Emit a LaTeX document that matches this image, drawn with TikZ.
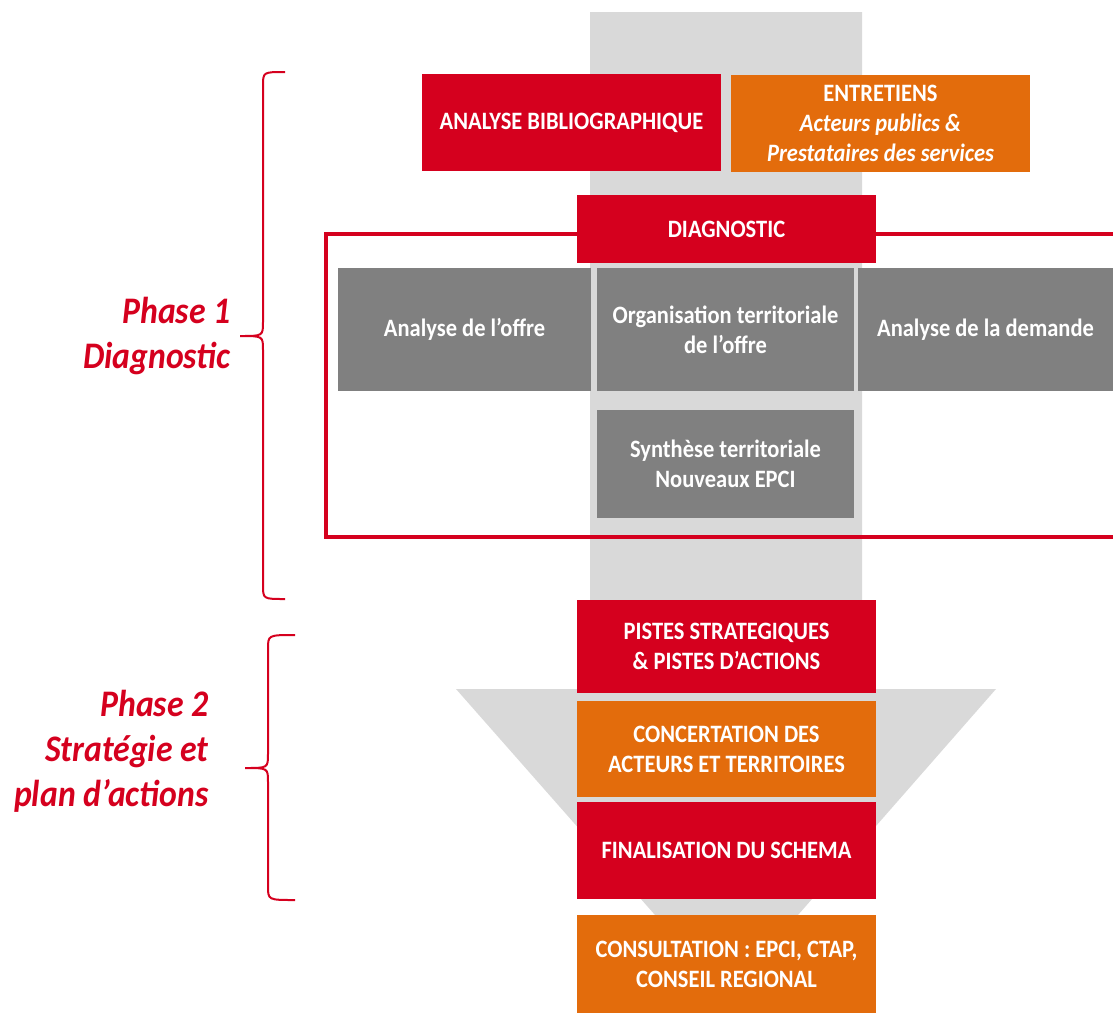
\documentclass[tikz,border=0pt]{standalone}
\usepackage{fontspec}
\setmainfont{Carlito}[FakeStretch=0.9]
\definecolor{scred}{RGB}{213,0,30}
\definecolor{scorange}{RGB}{227,108,12}
\definecolor{scgray}{RGB}{128,128,128}
\definecolor{sclight}{RGB}{217,217,217}

\begin{document}
\begin{tikzpicture}[x=1pt,y=-1pt,
  scbox/.style={rectangle,inner sep=2pt,outer sep=0pt,align=center,text=white,
    font=\fontsize{25}{30}\selectfont\bfseries},
  redbox/.style={scbox,fill=scred,minimum width=299pt},
  orangebox/.style={scbox,fill=scorange,minimum width=299pt},
  graybox/.style={scbox,fill=scgray,minimum height=123pt},
  phaselbl/.style={anchor=east,align=right,text=scred,
    font=\fontsize{37.5}{45}\selectfont\bfseries\itshape},
  scbrace/.style={scred,line width=2pt}
]
  \useasboundingbox (0,0) rectangle (1113,1013);
  % light gray arrow behind everything
  \fill[sclight] (590,12) -- (862,12) -- (862,689) -- (996,689) -- (798,915)
    -- (655,915) -- (456,689) -- (590,689) -- cycle;
  % red frame of the diagnostic
  \draw[scred,line width=4.5pt] (1113,234) -- (326,234) -- (326,537) -- (1113,537);

  % top row
  \node[redbox,minimum height=97pt] (bib) at (571.5,122.5) {ANALYSE BIBLIOGRAPHIQUE};
  \node[orangebox,minimum height=97pt] (ent) at (880.5,123.5) {ENTRETIENS\\
    \itshape Acteurs publics \&\\ \itshape Prestataires des services};
  \node[redbox,minimum height=68pt] (diag) at (726.5,229) {DIAGNOSTIC};

  % diagnostic contents
  \node[graybox,minimum width=253pt] (offre) at (464.5,329.5) {Analyse de l’offre};
  \node[graybox,minimum width=257pt] (orga) at (725.5,329.5) {Organisation territoriale\\de l’offre};
  \node[graybox,minimum width=255pt] (dem) at (985.5,329.5) {Analyse de la demande};
  \node[graybox,minimum width=257pt,minimum height=108pt] (synth) at (725.5,464) {Synthèse territoriale\\Nouveaux EPCI};

  % phase 2 steps
  \node[redbox,minimum height=93pt] (pistes) at (726.5,646.5) {PISTES STRATEGIQUES\\\& PISTES D’ACTIONS};
  \node[orangebox,minimum height=96pt] (conc) at (726.5,749) {CONCERTATION DES\\ACTEURS ET TERRITOIRES};
  \node[redbox,minimum height=97pt] (fin) at (726.5,850.5) {FINALISATION DU SCHEMA};
  \node[orangebox,minimum height=98pt] (cons) at (726.5,964) {CONSULTATION : EPCI, CTAP,\\CONSEIL REGIONAL};

  % braces and phase labels
  \draw[scbrace] (285,72) .. controls (263,72) .. (263,86) -- (263,322)
    .. controls (263,336) .. (240,336) .. controls (263,336) .. (263,350)
    -- (263,585) .. controls (263,599) .. (285,599);
  \node[phaselbl] (ph1) at (234,336) {Phase 1\\Diagnostic};
  \draw[scbrace] (295,635) .. controls (268,635) .. (268,649) -- (268,754)
    .. controls (268,768) .. (245,768) .. controls (268,768) .. (268,782)
    -- (268,886) .. controls (268,900) .. (295,900);
  \node[phaselbl] (ph2) at (212,751) {Phase 2\\Stratégie et\\plan d’actions};
\end{tikzpicture}
\end{document}
